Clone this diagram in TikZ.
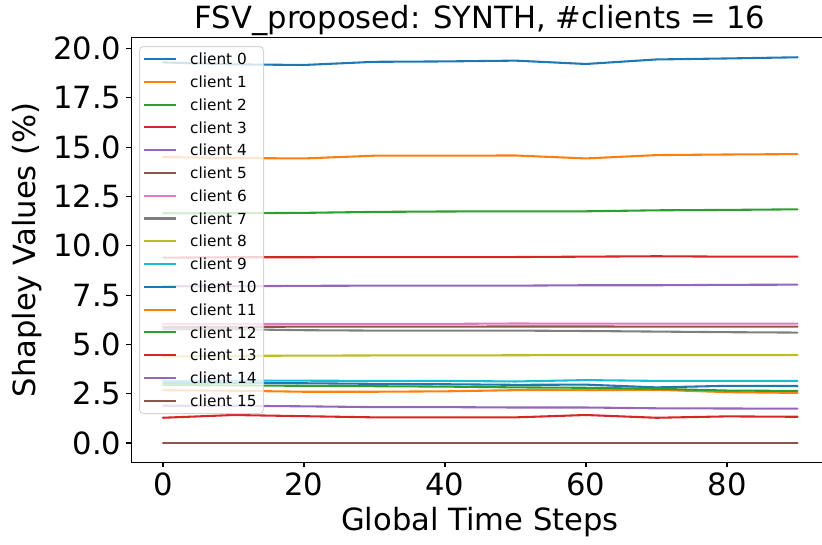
\documentclass[tikz,border=0pt]{standalone}
\usepackage{fontspec}
\setmainfont{DejaVu Sans}
\definecolor{c0}{HTML}{1F77B4}
\definecolor{c1}{HTML}{FF7F0E}
\definecolor{c2}{HTML}{2CA02C}
\definecolor{c3}{HTML}{D62728}
\definecolor{c4}{HTML}{9467BD}
\definecolor{c5}{HTML}{8C564B}
\definecolor{c6}{HTML}{E377C2}
\definecolor{c7}{HTML}{7F7F7F}
\definecolor{c8}{HTML}{BCBD22}
\definecolor{c9}{HTML}{17BECF}
\definecolor{legendgray}{HTML}{CCCCCC}
\tikzset{
  bigtext/.style={inner sep=0pt, font=\fontsize{30.6}{36}\selectfont},
  legtext/.style={inner sep=0pt, anchor=west, font=\fontsize{15.3}{18}\selectfont},
  series/.style={line width=2.08pt, line join=round, line cap=round},
  spine/.style={line width=1.11pt, black, line cap=rect},
  tickmark/.style={line width=1.11pt, black},
}
\begin{document}
\begin{tikzpicture}[x=1pt,y=-1pt]
\useasboundingbox (0,0) rectangle (822,544);
% data lines
\begin{scope}[shift={(163pt,-443pt)}, x=7.05pt, y=19.72pt]
\draw[series,c0] plot coordinates {(0,19.3) (10,19.2) (20,19.17) (30,19.33) (40,19.35) (50,19.39) (60,19.22) (70,19.45) (80,19.5) (90,19.56)};
\draw[series,c1] plot coordinates {(0,14.5) (10,14.45) (20,14.43) (30,14.57) (40,14.57) (50,14.58) (60,14.43) (70,14.6) (80,14.63) (90,14.65)};
\draw[series,c2] plot coordinates {(0,11.65) (10,11.65) (20,11.67) (30,11.72) (40,11.74) (50,11.75) (60,11.75) (70,11.8) (80,11.82) (90,11.85)};
\draw[series,c3] plot coordinates {(0,9.4) (10,9.42) (20,9.42) (30,9.43) (40,9.43) (50,9.43) (60,9.45) (70,9.47) (80,9.45) (90,9.45)};
\draw[series,c4] plot coordinates {(0,7.95) (10,7.95) (20,7.97) (30,7.98) (40,7.98) (50,7.98) (60,8.0) (70,8.0) (80,8.02) (90,8.03)};
\draw[series,c5] plot coordinates {(0,5.89) (10,5.89) (20,5.9) (30,5.9) (40,5.9) (50,5.91) (60,5.91) (70,5.9) (80,5.9) (90,5.9)};
\draw[series,c6] plot coordinates {(0,6.03) (10,6.03) (20,6.04) (30,6.04) (40,6.04) (50,6.06) (60,6.05) (70,6.05) (80,6.05) (90,6.05)};
\draw[series,c7] plot coordinates {(0,5.77) (10,5.77) (20,5.72) (30,5.7) (40,5.7) (50,5.7) (60,5.68) (70,5.65) (80,5.62) (90,5.6)};
\draw[series,c8] plot coordinates {(0,4.38) (10,4.42) (20,4.43) (30,4.44) (40,4.44) (50,4.45) (60,4.46) (70,4.46) (80,4.46) (90,4.46)};
\draw[series,c9] plot coordinates {(0,3.15) (10,3.16) (20,3.16) (30,3.15) (40,3.15) (50,3.12) (60,3.19) (70,3.15) (80,3.15) (90,3.15)};
\draw[series,c0] plot coordinates {(0,3.05) (10,3.05) (20,3.03) (30,3.0) (40,2.98) (50,2.95) (60,2.96) (70,2.82) (80,2.9) (90,2.89)};
\draw[series,c1] plot coordinates {(0,2.68) (10,2.65) (20,2.6) (30,2.6) (40,2.62) (50,2.68) (60,2.68) (70,2.7) (80,2.58) (90,2.54)};
\draw[series,c2] plot coordinates {(0,2.94) (10,2.92) (20,2.9) (30,2.88) (40,2.86) (50,2.82) (60,2.8) (70,2.75) (80,2.66) (90,2.64)};
\draw[series,c3] plot coordinates {(0,1.28) (10,1.42) (20,1.36) (30,1.3) (40,1.3) (50,1.3) (60,1.42) (70,1.28) (80,1.35) (90,1.33)};
\draw[series,c4] plot coordinates {(0,1.89) (10,1.89) (20,1.86) (30,1.82) (40,1.82) (50,1.8) (60,1.8) (70,1.76) (80,1.75) (90,1.74)};
\draw[series,c5] plot coordinates {(0,0) (10,0) (20,0) (30,0) (40,0) (50,0) (60,0) (70,0) (80,0) (90,0)};
\end{scope}
% legend
\node[draw=legendgray, draw opacity=0.8, fill=white, fill opacity=0.8, line width=1pt, rounded corners=4pt, inner sep=0pt, minimum width=124pt, minimum height=367pt, anchor=north west] (legend) at (139,46) {};
\foreach \i/\c in {0/c0,1/c1,2/c2,3/c3,4/c4,5/c5,6/c6,7/c7,8/c8,9/c9,10/c0,11/c1,12/c2,13/c3,14/c4,15/c5}{
  \coordinate (h\i a) at (144,{59+22.78*\i});
  \coordinate (h\i b) at (176,{59+22.78*\i});
  \draw[series,\c,line cap=butt] (h\i a) -- (h\i b);
  \node[legtext] (l\i) at (190,{59+22.78*\i}) {client \i};
}
% spines
\coordinate (bl) at (131.3,462.3);
\coordinate (tl) at (131.3,37.9);
\coordinate (br) at (829,462.3);
\coordinate (tr) at (829,37.9);
\draw[spine] (tl) -- (bl) -- (br) -- (tr) -- cycle;
% x ticks
\foreach \t in {0,20,40,60,80}{
  \coordinate (xt\t) at ({163+7.05*\t},462.3);
  \draw[tickmark] (xt\t) -- ++(0,4.86);
  \node[bigtext, anchor=north] (xl\t) at ({163+7.05*\t},472.2) {\t};
}
% y ticks
\foreach \k/\v/\lab in {0/0/0.0,1/2.5/2.5,2/5/5.0,3/7.5/7.5,4/10/10.0,5/12.5/12.5,6/15/15.0,7/17.5/17.5,8/20/20.0}{
  \coordinate (yt\k) at (131.3,{443-19.72*\v});
  \draw[tickmark] (yt\k) -- ++(-4.86,0);
  \node[bigtext, anchor=east] (yl\k) at (121.6,{443-19.72*\v}) {\lab};
}
% labels
\node[bigtext, anchor=base] (title) at (480,28) {FSV\_proposed: SYNTH, \#clients = 16};
\node[bigtext, anchor=base] (xlabel) at (480,530) {Global Time Steps};
\node[bigtext, anchor=base, rotate=90] (ylabel) at (35,250) {Shapley Values (\%)};
\end{tikzpicture}
\end{document}
